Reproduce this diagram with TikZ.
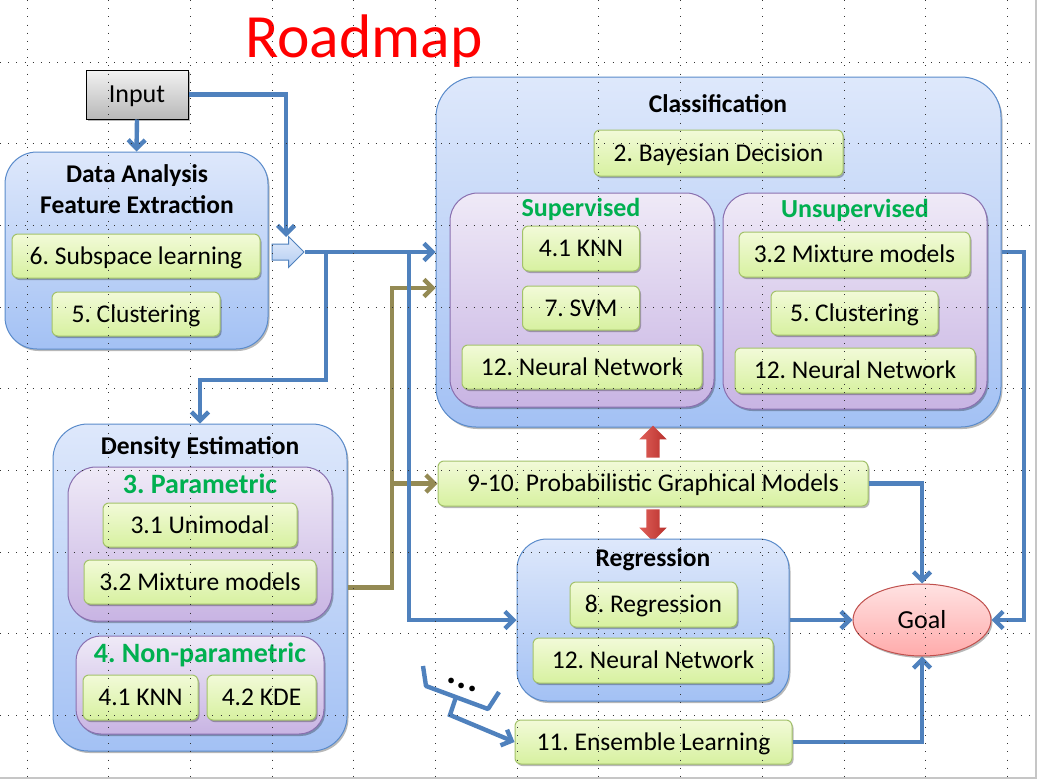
\documentclass[tikz,border=0pt]{standalone}
\usepackage{fontspec}
\setmainfont{Carlito}
\usetikzlibrary{arrows.meta,shapes.geometric,shapes.arrows,shadows}
\definecolor{lblue}{HTML}{4F81BD}
\definecolor{olive2}{HTML}{948A54}
\definecolor{ctop}{HTML}{DEE8FB}
\definecolor{cbot}{HTML}{A3C1F4}
\definecolor{cbord}{HTML}{5A8BCB}
\definecolor{ptop}{HTML}{EFEAF7}
\definecolor{pbot}{HTML}{C8B4E3}
\definecolor{pbord}{HTML}{8A70B0}
\definecolor{gtop}{HTML}{F2FAD8}
\definecolor{gbot}{HTML}{D7F1A0}
\definecolor{gbord}{HTML}{A3C26A}
\definecolor{gtext}{HTML}{00B050}
\definecolor{rtop}{HTML}{FFE2E2}
\definecolor{rbot}{HTML}{FFABAB}
\definecolor{rbord}{HTML}{C0504D}
\definecolor{redA}{HTML}{E0605A}
\definecolor{redB}{HTML}{B8302C}
\definecolor{fattop}{HTML}{E3ECFA}
\definecolor{fatbot}{HTML}{B2CCF2}
\definecolor{intop}{HTML}{F2F2F2}
\definecolor{inbot}{HTML}{B8B8B8}
\newcommand\fsz[1]{\fontsize{#1pt}{#1pt}\selectfont}
\frenchspacing
\begin{document}
\frenchspacing
\begin{tikzpicture}[x=1pt,y=-1pt,>={Straight Barb[length=8.5pt,width=17pt]},
  bline/.style={draw=lblue,line width=4.4pt},
  oline/.style={draw=olive2,line width=4.4pt},
  shad/.style={drop shadow={shadow xshift=1.5pt,shadow yshift=-2pt,opacity=0.28,fill=black}},
  cont/.style={shad,draw=cbord,line width=1pt,top color=ctop,bottom color=cbot,rounded corners=34pt,inner sep=0pt},
  pcont/.style={shad,draw=pbord,line width=1pt,top color=ptop,bottom color=pbot,rounded corners=28pt,inner sep=0pt},
  gbox/.style={shad,draw=gbord,line width=1pt,top color=gtop,bottom color=gbot,rounded corners=6pt,inner sep=0pt,font=\fsz{25.5},text height=16.1pt,text depth=0pt},
  ttext/.style={font=\bfseries\fsz{25.5},text height=16.1pt,text depth=0pt,inner sep=0pt},
  gtitle/.style={ttext,text=gtext},
  redarrow/.style={single arrow,draw=none,left color=redA,right color=redB,inner xsep=0pt,inner ysep=6.5pt,single arrow head extend=7pt,minimum height=32pt},
  gridl/.style={line width=1pt,dash pattern=on 1pt off 7.167pt,black!80}
]
\useasboundingbox (0,0) rectangle (1037,779);
\fill[white] (0,0) rectangle (1037,779);

% title
\node[font=\fsz{61.5},text=red,text height=38.9pt,text depth=0pt,inner sep=0pt] (ttl) at (364,38) {Roadmap};

% input
\node[shad,draw=black,line width=1pt,top color=intop,bottom color=inbot,minimum width=102pt,minimum height=49pt,inner sep=0pt,font=\fsz{26},text height=16.4pt,text depth=0pt] (input) at (137,94.5) {Input};

% data analysis
\node[cont,rounded corners=32pt,minimum width=263pt,minimum height=197pt] (dan) at (136.5,250.5) {};
\node[ttext] (dant1) at (137,174.5) {Data Analysis};
\node[ttext] (dant2) at (137,205) {Feature Extraction};
\node[gbox,minimum width=248pt,minimum height=44pt] (sub) at (136,256) {6. Subspace learning};
\node[gbox,minimum width=168pt,minimum height=44pt] (clu1) at (136,314) {5. Clustering};

% fat arrow
\node[single arrow,draw=lblue,line width=1pt,top color=fattop,bottom color=fatbot,inner xsep=0pt,inner ysep=7.5pt,single arrow head extend=7.5pt,minimum height=32pt] (fat) at (284,252) {};

% classification
\node[cont,rounded corners=40pt,minimum width=565pt,minimum height=350pt] (class) at (718.5,252) {};
\node[ttext] (classt) at (718,104.5) {Classification};
\node[gbox,minimum width=249pt,minimum height=46pt] (bay) at (718.5,153) {2. Bayesian Decision};
\node[pcont,minimum width=264pt,minimum height=214pt] (sup) at (582,300) {};
\node[gtitle,font=\bfseries\fsz{26}] (supt) at (581,208.5) {Supervised};
\node[gbox,minimum width=117pt,minimum height=45pt] (knn1) at (581,248.5) {4.1 KNN};
\node[gbox,minimum width=117pt,minimum height=44pt] (svm) at (581,308) {7. SVM};
\node[gbox,minimum width=240pt,minimum height=44pt] (nn1) at (582,367) {12. Neural Network};
\node[pcont,minimum width=264pt,minimum height=216pt] (unsup) at (855,301) {};
\node[gtitle,font=\bfseries\fsz{26}] (unsupt) at (855,209) {Unsupervised};
\node[gbox,minimum width=231pt,minimum height=45pt] (mix1) at (854.5,254.5) {3.2 Mixture models};
\node[gbox,minimum width=167pt,minimum height=44pt] (clu2) at (854.5,313) {5. Clustering};
\node[gbox,minimum width=240pt,minimum height=45pt] (nn2) at (855,370.5) {12. Neural Network};

% red arrows
\node[redarrow,rotate=90] (upred) at (653,445) {};
\node[redarrow,rotate=-90] (dnred) at (653,522) {};

% PGM
\node[gbox,minimum width=430pt,minimum height=45pt] (pgm) at (653,483.5) {9-10. Probabilistic Graphical Models};

% regression
\node[cont,rounded corners=30pt,minimum width=272pt,minimum height=162pt] (reg) at (653,620) {};
\node[ttext] (regt) at (653,558.5) {Regression};
\node[gbox,minimum width=167pt,minimum height=45pt] (regb) at (653.5,604.5) {8. Regression};
\node[gbox,minimum width=240pt,minimum height=45pt] (nn3) at (653,660.5) {12. Neural Network};

% ensemble
\node[gbox,minimum width=277pt,minimum height=44pt] (ens) at (653.5,742) {11. Ensemble Learning};

% goal
\node[ellipse,shad,draw=rbord,line width=1pt,top color=rtop,bottom color=rbot,minimum width=138pt,minimum height=72pt,inner sep=0pt,font=\fsz{26},text height=16.4pt,text depth=0pt] (goal) at (922,620) {Goal};

% density estimation
\node[cont,rounded corners=35pt,minimum width=294pt,minimum height=327pt] (dens) at (200,587.5) {};
\node[ttext] (denst) at (200,446) {Density Estimation};
\node[pcont,minimum width=264pt,minimum height=154pt] (par) at (200,544) {};
\node[gtitle,font=\bfseries\fsz{28},text height=17.7pt] (part) at (200,484.5) {3. Parametric};
\node[gbox,minimum width=194pt,minimum height=44pt] (uni) at (200,525) {3.1 Unimodal};
\node[gbox,minimum width=232pt,minimum height=44pt] (mix2) at (200,582) {3.2 Mixture models};
\node[pcont,rounded corners=25pt,minimum width=248pt,minimum height=98pt] (npar) at (200,685) {};
\node[gtitle,font=\bfseries\fsz{28},text height=17.7pt] (npart) at (200,653.5) {4. Non-parametric};
\node[gbox,minimum width=115pt,minimum height=45pt] (knn2) at (140.5,697.5) {4.1 KNN};
\node[gbox,minimum width=109pt,minimum height=45pt] (kde) at (261.5,697.5) {4.2 KDE};

% coordinates
\coordinate (fatin) at (286,237);
\coordinate (j1) at (326,252);
\coordinate (j1b) at (326,380);
\coordinate (j2) at (409,252);
\coordinate (o1) at (392,288);
\coordinate (o2) at (392,483.5);
\coordinate (rc) at (1024,620);
\coordinate (bk0) at (456,697);
\coordinate (bk) at (450,715);

% olive connectors
\draw[oline,->] (dens.east) -| (o1) -- (o1 -| class.west);
\draw[oline,->] (o2) -- (pgm.west);

% blue connectors
\draw[bline,->] (input.south) -- (dan.north);
\draw[bline,->] (input.east) -| (fatin);
\draw[bline,->] (fat.tip) -- (class.west);
\draw[bline,->] (j1) -- (j1b) -| (dens.north);
\draw[bline,->] (j2) |- (reg.west);
\draw[bline,->] (class.east) -| (rc) -- (goal.east);
\draw[bline,->] (pgm.east) -| (goal.north);
\draw[bline,->] (reg.east) -- (goal.west);
\draw[bline,->] (ens.east) -| (goal.south);

% bracket
\draw[bline,line join=round] (423,666) -- (426,686) -- (488,709) -- (499,692);
\draw[bline,->] (bk0) -- (bk) -- (ens.west);
\node[font=\bfseries\fsz{38},inner sep=0pt,anchor=base west] (dots) at (446,683) {.\kern0.5pt\raisebox{-5pt}{.}\kern0.5pt\raisebox{-8.5pt}{.}};

% grid overlay
\foreach \i in {0,...,12}{\draw[gridl] ({27.3+81.67*\i},0) -- ({27.3+81.67*\i},777);}
\foreach \j in {0,...,8}{\draw[gridl] (0,{62+81.67*\j}) -- (1035,{62+81.67*\j});}

% frame
\draw[gray!45,line width=2pt] (1036,0) -- (1036,778) -- (0,778);
\end{tikzpicture}
\end{document}
